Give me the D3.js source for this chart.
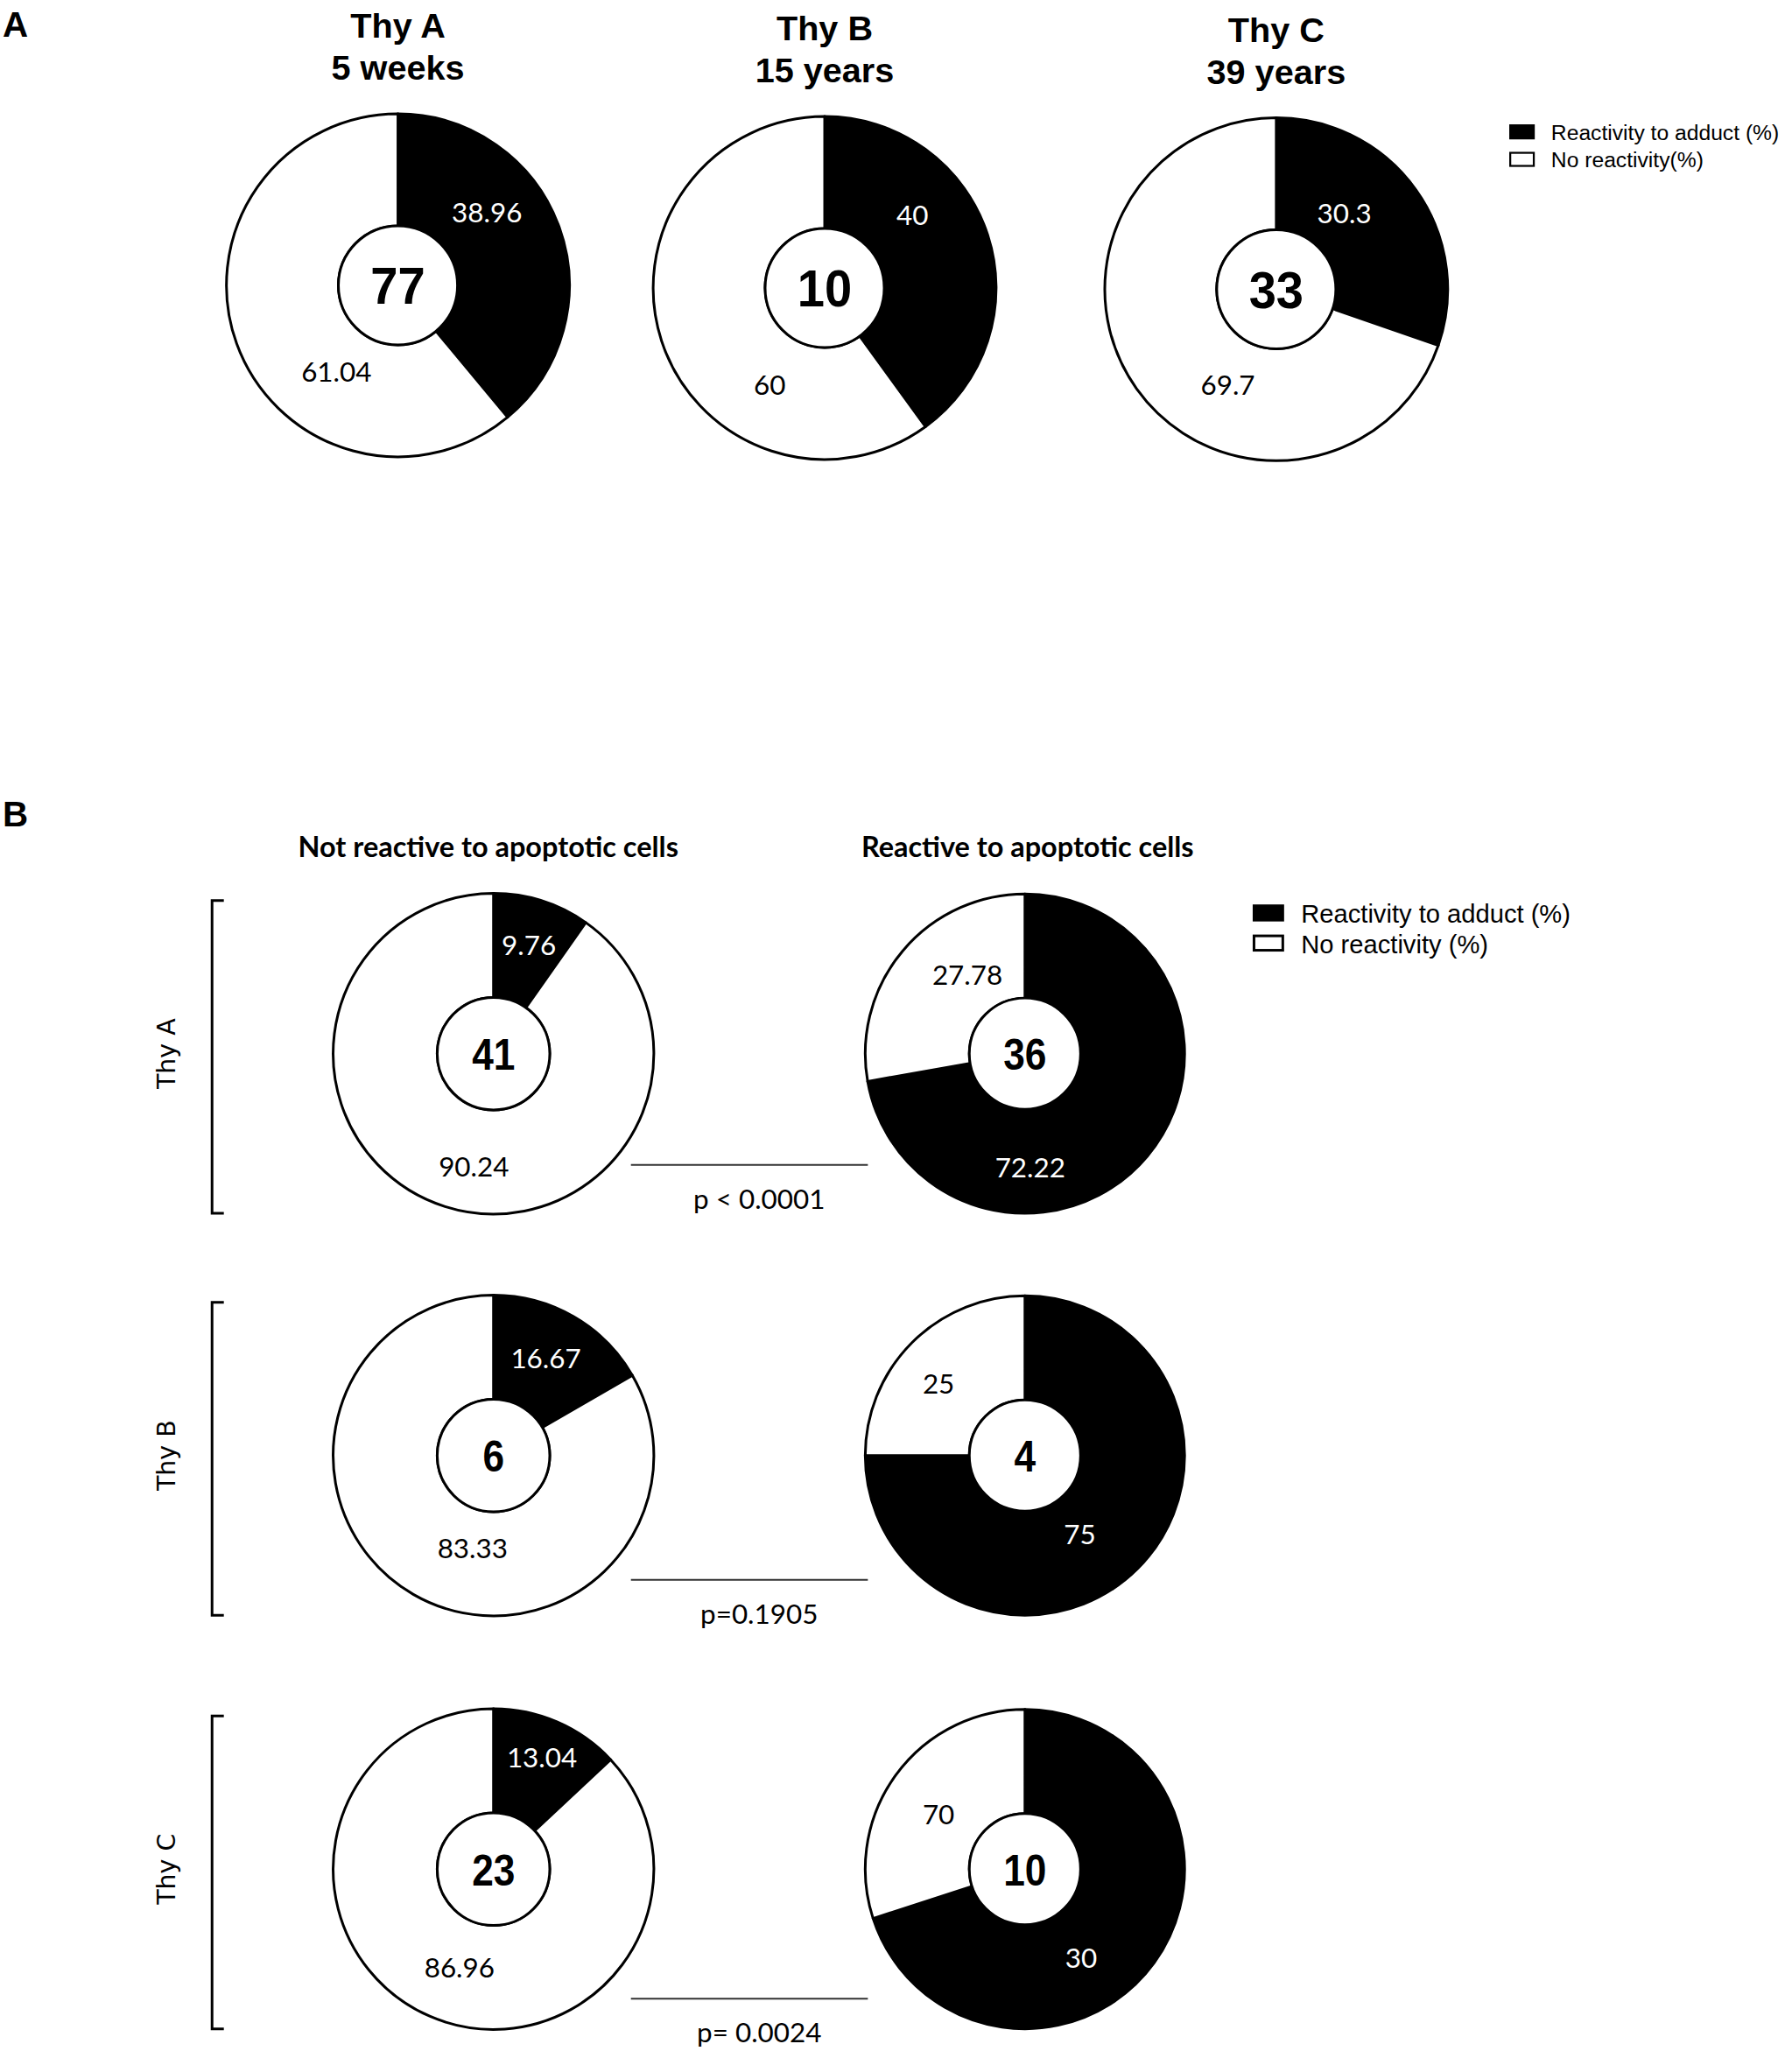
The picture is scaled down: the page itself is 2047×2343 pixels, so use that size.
<!DOCTYPE html>
<html>
<head>
<meta charset="utf-8">
<script src="https://cdn.jsdelivr.net/npm/d3@7"></script>
<style>
  html, body { margin: 0; padding: 0; background: #fff; }
  svg { display: block; }
</style>
</head>
<body>
<script>
// ---------------- DATA ----------------
const panelAThy = ["Thy A", "Thy B", "Thy C"];
const panelAAge = ["5 weeks", "15 years", "39 years"];
const panelAN = [77, 10, 33];
const panelAReact = [38.96, 40, 30.3];
const panelANoReact = [61.04, 60, 69.7];

const panelBRows = ["Thy A", "Thy B", "Thy C"];
const panelBCols = ["Not reactive to apoptotic cells", "Reactive to apoptotic cells"];
const notReactN = [41, 6, 23];
const notReactReact = [9.76, 16.67, 13.04];
const notReactNo = [90.24, 83.33, 86.96];
const reactN = [36, 4, 10];
// slice sizes as drawn
const reactReact = [72.22, 75, 70];
const reactNo = [27.78, 25, 30];
// label texts as printed
const reactReactLabel = ["72.22", "75", "30"];
const reactNoLabel = ["27.78", "25", "70"];
const pValues = ["p < 0.0001", "p=0.1905", "p= 0.0024"];

const legendA = ["Reactivity to adduct  (%)", "No reactivity(%)"];
const legendB = ["Reactivity to adduct (%)", "No reactivity (%)"];

// ---------------- LAYOUT (design units, scaled to page) ----------------
const W = 2047, H = 2343;
const k = W / 1369;
const numFont = "Lato, 'Open Sans', sans-serif";
const arialFont = "'Liberation Sans', Arial, sans-serif";

// label nudges relative to pie centre [dx, dy] for [black, white]
const nudgeA = [[[68, -56], [-47, 66]], [[67, -56], [-42, 74]], [[52, -58], [-37, 73]]];
const nudgeBL = [[[27, -83], [-15, 86]], [[40, -74], [-16, 71]], [[37, -85], [-26, 75]]];
const nudgeBR = [[[4, 87], [-44, -60]], [[42, 60], [-66, -55]], [[43, 68], [-66, -42]]];

const svg = d3.select("body").append("svg")
  .attr("width", W).attr("height", H)
  .attr("viewBox", `0 0 ${W} ${H}`);
svg.append("rect").attr("width", W).attr("height", H).attr("fill", "#fff");
const g = svg.append("g").attr("transform", `scale(${k})`);

const pie = d3.pie().sort(null).value(d => d.v);

function donut(parent, cx, cy, rOuter, rInner, vals, labels, nudges, n, nSize, nSx) {
  const grp = parent.append("g").attr("transform", `translate(${cx},${cy})`);
  const arc = d3.arc().innerRadius(rInner).outerRadius(rOuter);
  const data = [{ v: vals[0], fill: "#000", txt: "#fff" }, { v: vals[1], fill: "#fff", txt: "#000" }];
  const arcs = pie(data);
  grp.selectAll("path.slice").data(arcs).join("path")
    .attr("class", "slice")
    .attr("d", arc)
    .attr("fill", d => d.data.fill)
    .attr("stroke", "#000")
    .attr("stroke-width", 2)
    .attr("stroke-linejoin", "round");
  grp.append("circle").attr("r", rInner).attr("fill", "#fff")
    .attr("stroke", "#000").attr("stroke-width", 2);
  grp.selectAll("text.lbl").data(arcs).join("text")
    .attr("class", "lbl")
    .attr("x", (d, i) => nudges[i][0])
    .attr("y", (d, i) => nudges[i][1])
    .attr("dy", "0.36em")
    .attr("text-anchor", "middle")
    .attr("font-family", numFont)
    .attr("font-size", 21)
    .attr("fill", d => d.data.txt)
    .text((d, i) => labels[i]);
  grp.append("text")
    .attr("transform", `scale(${nSx},1)`)
    .attr("dy", "0.36em")
    .attr("text-anchor", "middle")
    .attr("font-family", arialFont)
    .attr("font-weight", "bold")
    .attr("font-size", nSize)
    .text(n);
}

// ---------------- PANEL A ----------------
g.append("text").attr("x", 2).attr("y", 28)
  .attr("font-family", arialFont).attr("font-weight", "bold").attr("font-size", 27).text("A");

const xA = d3.scaleOrdinal().domain(panelAThy).range([304, 630, 975]);
const yA = d3.scaleOrdinal().domain(panelAThy).range([218, 220, 221]);

panelAThy.forEach((t, i) => {
  const cx = xA(t), cy = yA(t);
  const tt = g.append("text").attr("text-anchor", "middle")
    .attr("font-family", arialFont).attr("font-weight", "bold").attr("font-size", 26.5);
  tt.append("tspan").attr("x", cx).attr("y", cy - 189).text(t);
  tt.append("tspan").attr("x", cx).attr("y", cy - 157).text(panelAAge[i]);
  donut(g, cx, cy, 131, 45.5,
    [panelAReact[i], panelANoReact[i]],
    [String(panelAReact[i]), String(panelANoReact[i])],
    nudgeA[i], panelAN[i], 39.5, 0.95);
});

// legend A
const legA = g.append("g").attr("transform", "translate(1153,95)");
legendA.forEach((t, i) => {
  legA.append("rect").attr("x", 0.75).attr("y", i * 21 + 0.75).attr("width", 18).attr("height", 10)
    .attr("fill", i === 0 ? "#000" : "#fff").attr("stroke", "#000").attr("stroke-width", 1.5);
  legA.append("text").attr("x", 32).attr("y", i * 21 + 6).attr("dy", "0.35em")
    .attr("font-family", arialFont).attr("font-size", 16.5).text(t);
});

// ---------------- PANEL B ----------------
g.append("text").attr("x", 2).attr("y", 631)
  .attr("font-family", arialFont).attr("font-weight", "bold").attr("font-size", 27).text("B");

const xB = d3.scaleOrdinal().domain(panelBCols).range([377, 783]);
const yB = d3.scaleOrdinal().domain(panelBRows).range([805, 1112, 1428]);
const pLineY = d3.scaleOrdinal().domain(panelBRows).range([890, 1207, 1527]);

g.selectAll("text.coltitle").data(panelBCols).join("text")
  .attr("class", "coltitle")
  .attr("x", (d, i) => xB(d) + (i === 0 ? -4 : 2))
  .attr("y", 647).attr("dy", "0.36em")
  .attr("text-anchor", "middle")
  .attr("font-family", numFont).attr("font-weight", "bold").attr("font-size", 21.7)
  .text(d => d);

panelBRows.forEach((r, i) => {
  const cy = yB(r);
  donut(g, xB(panelBCols[0]), cy, 122.5, 43,
    [notReactReact[i], notReactNo[i]],
    [String(notReactReact[i]), String(notReactNo[i])],
    nudgeBL[i], notReactN[i], 34, 0.87);
  donut(g, xB(panelBCols[1]), cy, 122, 42.5,
    [reactReact[i], reactNo[i]],
    [reactReactLabel[i], reactNoLabel[i]],
    nudgeBR[i], reactN[i], 34, 0.87);

  // bracket
  const top = cy - 117, bot = cy + 122;
  g.append("path")
    .attr("d", d3.line()([[171, top], [162, top], [162, bot], [171, bot]]))
    .attr("fill", "none").attr("stroke", "#000").attr("stroke-width", 2);
  g.append("text")
    .attr("transform", `translate(127,${cy}) rotate(-90)`)
    .attr("dy", "0.36em")
    .attr("text-anchor", "middle")
    .attr("font-family", "'DejaVu Sans', Verdana, sans-serif")
    .attr("font-size", 19)
    .text(r);

  // p-value line
  const ly = pLineY(r);
  g.append("line").attr("x1", 482).attr("x2", 663).attr("y1", ly).attr("y2", ly)
    .attr("stroke", "#333").attr("stroke-width", 1.3);
  g.append("text").attr("x", 580).attr("y", ly + 26).attr("dy", "0.36em")
    .attr("text-anchor", "middle")
    .attr("font-family", numFont).attr("font-size", 21)
    .text(pValues[i]);
});

// legend B
const legB = g.append("g").attr("transform", "translate(957,691)");
legendB.forEach((t, i) => {
  legB.append("rect").attr("x", 1).attr("y", i * 23 + 1).attr("width", 22).attr("height", 11)
    .attr("fill", i === 0 ? "#000" : "#fff").attr("stroke", "#000").attr("stroke-width", 2);
  legB.append("text").attr("x", 37).attr("y", i * 23 + 7).attr("dy", "0.36em")
    .attr("font-family", arialFont).attr("font-size", 19.5).text(t);
});
</script>
</body>
</html>
